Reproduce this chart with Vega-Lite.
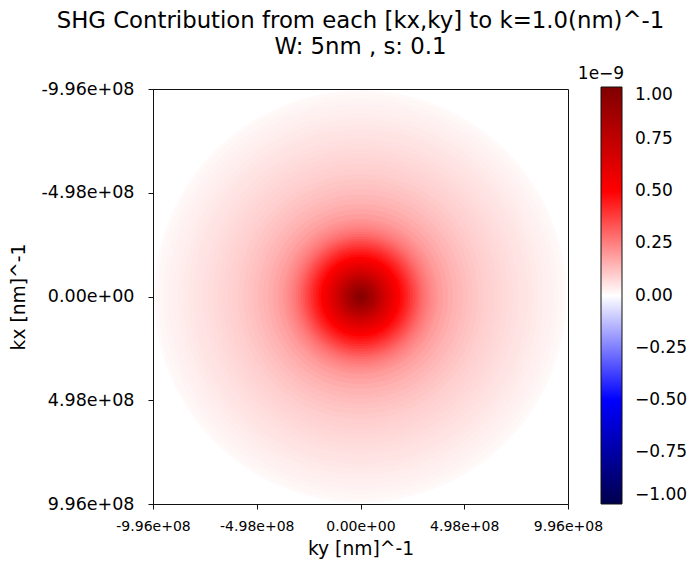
{
  "$schema": "https://vega.github.io/schema/vega-lite/v6.json",
  "width": 415,
  "height": 415,
  "autosize": {"type": "none"},
  "padding": {"left": 153, "top": 89, "right": 124, "bottom": 63},
  "background": "white",
  "config": {"view": {"stroke": "#111", "strokeWidth": 1}, "font": "DejaVu Sans"},
  "title": {
    "text": ["SHG Contribution from each [kx,ky] to k=1.0(nm)^-1", "W: 5nm , s: 0.1"],
    "fontSize": 22.8,
    "fontWeight": "normal",
    "font": "DejaVu Sans",
    "color": "#000",
    "anchor": "middle",
    "frame": "group",
    "offset": 7,
    "lineHeight": 26
  },
  "data": {
    "values": [
      {"r": 9.89e8, "v": 1.2e-11},
      {"r": 9.72e8, "v": 1.7e-11},
      {"r": 9.48e8, "v": 2.2e-11},
      {"r": 9.24e8, "v": 2.7e-11},
      {"r": 9.0e8, "v": 3.2e-11},
      {"r": 8.76e8, "v": 3.7e-11},
      {"r": 8.52e8, "v": 4.2e-11},
      {"r": 8.28e8, "v": 4.7e-11},
      {"r": 8.04e8, "v": 5.2e-11},
      {"r": 7.8e8, "v": 5.7e-11},
      {"r": 7.56e8, "v": 6.2e-11},
      {"r": 7.32e8, "v": 6.7e-11},
      {"r": 7.08e8, "v": 7.2e-11},
      {"r": 6.84e8, "v": 7.8e-11},
      {"r": 6.6e8, "v": 8.4e-11},
      {"r": 6.36e8, "v": 9.0e-11},
      {"r": 6.12e8, "v": 9.7e-11},
      {"r": 5.88e8, "v": 1.04e-10},
      {"r": 5.64e8, "v": 1.12e-10},
      {"r": 5.4e8, "v": 1.2e-10},
      {"r": 5.16e8, "v": 1.3e-10},
      {"r": 4.92e8, "v": 1.4e-10},
      {"r": 4.68e8, "v": 1.5e-10},
      {"r": 4.44e8, "v": 1.62e-10},
      {"r": 4.2e8, "v": 1.76e-10},
      {"r": 3.96e8, "v": 1.92e-10},
      {"r": 3.72e8, "v": 2.1e-10},
      {"r": 3.6e8, "v": 2.2e-10},
      {"r": 3.48e8, "v": 2.32e-10},
      {"r": 3.36e8, "v": 2.45e-10},
      {"r": 3.24e8, "v": 2.6e-10},
      {"r": 3.12e8, "v": 2.77e-10},
      {"r": 3.0e8, "v": 2.95e-10},
      {"r": 2.88e8, "v": 3.15e-10},
      {"r": 2.76e8, "v": 3.37e-10},
      {"r": 2.64e8, "v": 3.6e-10},
      {"r": 2.52e8, "v": 3.83e-10},
      {"r": 2.4e8, "v": 4.07e-10},
      {"r": 2.28e8, "v": 4.3e-10},
      {"r": 2.16e8, "v": 4.52e-10},
      {"r": 2.04e8, "v": 4.75e-10},
      {"r": 1.92e8, "v": 5.0e-10},
      {"r": 1.8e8, "v": 5.3e-10},
      {"r": 1.68e8, "v": 5.6e-10},
      {"r": 1.56e8, "v": 5.9e-10},
      {"r": 1.44e8, "v": 6.2e-10},
      {"r": 1.32e8, "v": 6.5e-10},
      {"r": 1.2e8, "v": 6.85e-10},
      {"r": 1.08e8, "v": 7.2e-10},
      {"r": 9.6e7, "v": 7.55e-10},
      {"r": 8.4e7, "v": 7.9e-10},
      {"r": 7.2e7, "v": 8.25e-10},
      {"r": 6.0e7, "v": 8.6e-10},
      {"r": 4.8e7, "v": 8.9e-10},
      {"r": 3.6e7, "v": 9.2e-10},
      {"r": 2.4e7, "v": 9.45e-10},
      {"r": 1.2e7, "v": 9.65e-10}
    ]
  },
  "mark": {"type": "point", "shape": "circle", "filled": true, "opacity": 1, "strokeWidth": 0, "clip": true},
  "encoding": {
    "x": {
      "datum": 0,
      "type": "quantitative",
      "scale": {"domain": [-9.96e8, 9.96e8], "nice": false, "zero": false},
      "axis": {
        "title": "ky [nm]^-1",
        "values": [-9.96e8, -4.98e8, 0, 4.98e8, 9.96e8],
        "labelExpr": "datum.value < -7e8 ? '-9.96e+08' : datum.value < -2e8 ? '-4.98e+08' : datum.value < 2e8 ? '0.00e+00' : datum.value < 7e8 ? '4.98e+08' : '9.96e+08'",
        "labelFontSize": 14,
        "labelFont": "DejaVu Sans",
        "labelColor": "#000",
        "labelPadding": 10,
        "labelFlush": false,
        "labelOverlap": false,
        "tickSize": 5,
        "tickColor": "#111",
        "domainColor": "#111",
        "grid": false,
        "titleFontSize": 18.7,
        "titleFontWeight": "normal",
        "titleFont": "DejaVu Sans",
        "titleColor": "#000",
        "titlePadding": 6
      }
    },
    "y": {
      "datum": 0,
      "type": "quantitative",
      "scale": {"domain": [-9.96e8, 9.96e8], "nice": false, "zero": false, "reverse": true},
      "axis": {
        "title": "kx [nm]^-1",
        "values": [-9.96e8, -4.98e8, 0, 4.98e8, 9.96e8],
        "labelExpr": "datum.value < -7e8 ? '-9.96e+08' : datum.value < -2e8 ? '-4.98e+08' : datum.value < 2e8 ? '0.00e+00' : datum.value < 7e8 ? '4.98e+08' : '9.96e+08'",
        "labelFontSize": 17.5,
        "labelFont": "DejaVu Sans",
        "labelColor": "#000",
        "labelPadding": 14,
        "labelFlush": false,
        "labelOverlap": false,
        "tickSize": 5,
        "tickColor": "#111",
        "domainColor": "#111",
        "grid": false,
        "titleFontSize": 18.7,
        "titleFontWeight": "normal",
        "titleFont": "DejaVu Sans",
        "titleColor": "#000",
        "titlePadding": 13
      }
    },
    "size": {
      "field": "r",
      "type": "quantitative",
      "scale": {"type": "pow", "exponent": 2, "domain": [0, 9.96e8], "range": [0, 172225]},
      "legend": null
    },
    "color": {
      "field": "v",
      "type": "quantitative",
      "scale": {
        "domain": [-1e-9, -5e-10, 0, 5e-10, 1e-9],
        "range": ["#00004c", "#0000ff", "#ffffff", "#ff0000", "#800000"],
        "interpolate": "rgb"
      },
      "legend": {
        "orient": "none",
        "legendX": 425,
        "legendY": -23,
        "direction": "vertical",
        "gradientLength": 417,
        "gradientThickness": 21,
        "gradientStrokeColor": "#111",
        "gradientStrokeWidth": 1,
        "values": [1e-9, 7.5e-10, 5e-10, 2.5e-10, 0, -2.5e-10, -5e-10, -7.5e-10, -1e-9],
        "labelExpr": "format(datum.value * 1e9, '.2f')",
        "labelFontSize": 17,
        "labelFont": "DejaVu Sans",
        "labelColor": "#000",
        "labelOffset": 13,
        "labelBaseline": "middle",
        "labelOverlap": false,
        "labelLimit": 0,
        "title": "1e−9",
        "titleFontSize": 17,
        "titleFont": "DejaVu Sans",
        "titleFontWeight": "normal",
        "titleColor": "#000",
        "titleAnchor": "start",
        "titleAlign": "center",
        "titlePadding": 4,
        "padding": 0,
        "encode": {
          "labels": {
            "enter": {
              "baseline": {"value": "middle"}
            },
            "update": {
              "baseline": {"value": "middle"}
            }
          }
        }
      }
    }
  }
}
